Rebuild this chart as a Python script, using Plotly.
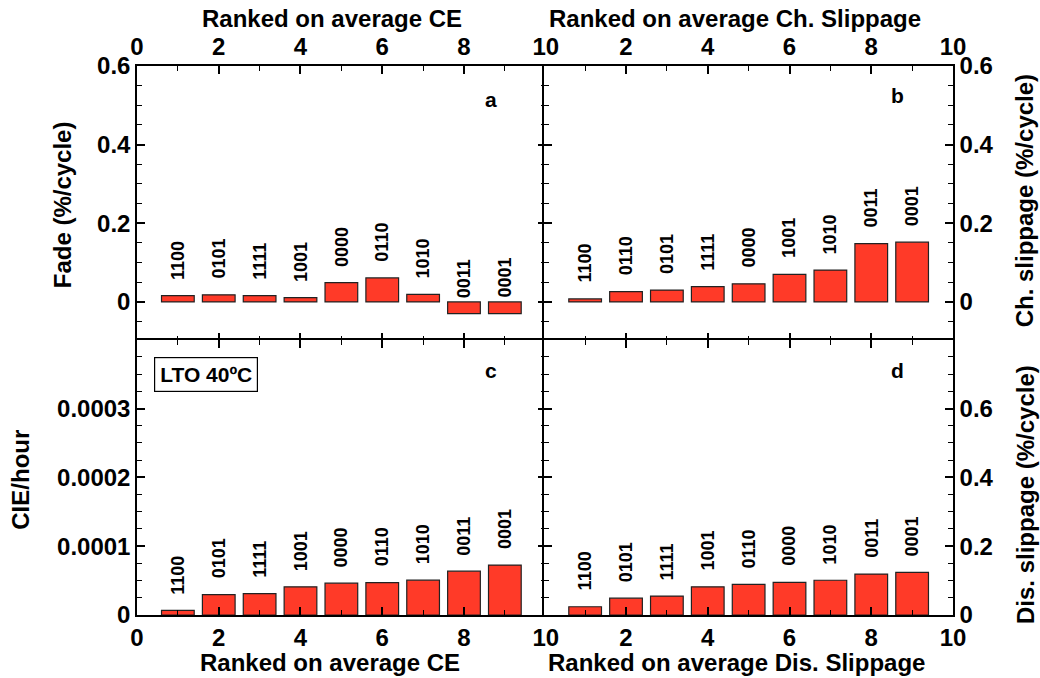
import plotly.graph_objects as go

# Rank positions shared by all four panels
rank = [1, 2, 3, 4, 5, 6, 7, 8, 9]

# (a) Fade, ranked on average CE
fade_codes = ["1100", "0101", "1111", "1001", "0000", "0110", "1010", "0011", "0001"]
fade_vals = [0.016, 0.018, 0.016, 0.011, 0.049, 0.061, 0.019, -0.030, -0.030]

# (b) Charge slippage, ranked on average Ch. slippage
ch_codes = ["1100", "0110", "0101", "1111", "0000", "1001", "1010", "0011", "0001"]
ch_vals = [0.0076, 0.026, 0.030, 0.039, 0.046, 0.070, 0.081, 0.148, 0.152]

# (c) CIE/hour, ranked on average CE
cie_codes = ["1100", "0101", "1111", "1001", "0000", "0110", "1010", "0011", "0001"]
cie_vals = [0.0000068, 0.0000297, 0.0000311, 0.0000409, 0.0000462,
            0.0000472, 0.0000506, 0.0000637, 0.0000725]

# (d) Discharge slippage, ranked on average Dis. slippage
dis_codes = ["1100", "0101", "1111", "1001", "0110", "0000", "1010", "0011", "0001"]
dis_vals = [0.024, 0.049, 0.055, 0.082, 0.089, 0.095, 0.101, 0.119, 0.124]

x_ticks_full = [0, 2, 4, 6, 8, 10]
x_ticks_right = [2, 4, 6, 8, 10]
slip_ticks = [0, 0.2, 0.4, 0.6]
slip_text = ["0", "0.2", "0.4", "0.6"]
cie_ticks = [0, 0.0001, 0.0002, 0.0003]
cie_text = ["0", "0.0001", "0.0002", "0.0003"]

FONT = "Liberation Sans"
BAR_COLOR = "#FF3A28"
TICKFONT = dict(family=FONT, size=24, color="black", weight="bold")

panels = [
    ("x", "y", fade_vals, fade_codes),
    ("x2", "y2", ch_vals, ch_codes),
    ("x3", "y3", cie_vals, cie_codes),
    ("x4", "y4", dis_vals, dis_codes),
]

fig = go.Figure()
annotations = []
for xa, ya, vals, codes in panels:
    fig.add_trace(go.Bar(
        x=rank, y=vals, width=0.8, xaxis=xa, yaxis=ya,
        marker=dict(color=BAR_COLOR, line=dict(color="#222222", width=1.2)),
        showlegend=False, hoverinfo="skip",
    ))
    for r, v, c in zip(rank, vals, codes):
        annotations.append(dict(
            x=r, y=v, xref=xa, yref=ya, text=c, showarrow=False,
            textangle=-90, yanchor="bottom", xanchor="center", yshift=14,
            font=dict(family=FONT, size=18, color="black", weight="bold"),
        ))


def xaxis(domain, anchor, side, tickvals):
    return dict(
        domain=domain, anchor=anchor, side=side, range=[0, 10],
        tickmode="array", tickvals=tickvals, ticktext=[str(t) for t in tickvals],
        ticks="inside", ticklen=8, tickwidth=1.5, tickcolor="black",
        minor=dict(tickmode="linear", tick0=0, dtick=1, ticks="inside",
                   ticklen=5, tickwidth=1.2, tickcolor="black"),
        showline=True, linecolor="black", linewidth=1.5, mirror="ticks",
        showgrid=False, zeroline=False, tickfont=TICKFONT, fixedrange=True,
    )


def yaxis(domain, anchor, side, rng, tickvals, ticktext, minor_dtick):
    return dict(
        domain=domain, anchor=anchor, side=side, range=rng,
        tickmode="array", tickvals=tickvals, ticktext=ticktext,
        ticks="inside", ticklen=8, tickwidth=1.5, tickcolor="black",
        minor=dict(tickmode="linear", tick0=0, dtick=minor_dtick, ticks="inside",
                   ticklen=5, tickwidth=1.2, tickcolor="black"),
        showline=True, linecolor="black", linewidth=1.5, mirror="ticks",
        showgrid=False, zeroline=False, tickfont=TICKFONT, fixedrange=True,
    )


title_font = dict(family=FONT, size=24, color="black")
letter_font = dict(family=FONT, size=21, color="black")


def paper_text(text, x, y, angle=0, font=title_font):
    return dict(text="<b>%s</b>" % text, x=x, y=y, xref="paper", yref="paper",
                showarrow=False, textangle=angle, xanchor="center",
                yanchor="middle", font=font)


annotations += [
    paper_text("Ranked on average CE", 0.239, 1.087),
    paper_text("Ranked on average Ch. Slippage", 0.733, 1.087),
    paper_text("Ranked on average CE", 0.237, -0.087),
    paper_text("Ranked on average Dis. Slippage", 0.735, -0.087),
    paper_text("Fade (%/cycle)", -0.092, 0.748, -90),
    paper_text("CIE/hour", -0.143, 0.247, -90),
    paper_text("Ch. slippage (%/cycle)", 1.088, 0.755, -90),
    paper_text("Dis. slippage (%/cycle)", 1.088, 0.22, -90),
    dict(text="<b>a</b>", x=8.65, y=0.515, xref="x", yref="y", showarrow=False,
         font=letter_font),
    dict(text="<b>b</b>", x=8.65, y=0.525, xref="x2", yref="y2", showarrow=False,
         font=letter_font),
    dict(text="<b>c</b>", x=8.65, y=0.000355, xref="x3", yref="y3", showarrow=False,
         font=letter_font),
    dict(text="<b>d</b>", x=8.65, y=0.71, xref="x4", yref="y4", showarrow=False,
         font=letter_font),
    dict(text="<b>LTO 40ºC</b>", x=1.68, y=0.000349, xref="x3", yref="y3",
         showarrow=False, bordercolor="black", borderwidth=1.2, borderpad=5,
         bgcolor="white", font=dict(family=FONT, size=21, color="black")),
]

# Neighbouring panels overlap by a line width so shared frame edges coincide
LEFT, RIGHT = [0, 0.5009], [0.4991, 1]
TOP, BOTTOM = [0.4987, 1], [0, 0.5013]

fig.update_layout(
    width=1040, height=678,
    margin=dict(l=137, r=87, t=66, b=63),
    paper_bgcolor="white", plot_bgcolor="white",
    xaxis=xaxis(LEFT, "y", "top", x_ticks_full),
    xaxis2=xaxis(RIGHT, "y2", "top", x_ticks_right),
    xaxis3=xaxis(LEFT, "y3", "bottom", x_ticks_full),
    xaxis4=xaxis(RIGHT, "y4", "bottom", x_ticks_right),
    yaxis=yaxis(TOP, "x", "left", [-0.1, 0.6], slip_ticks, slip_text, 0.05),
    yaxis2=yaxis(TOP, "x2", "right", [-0.1, 0.6], slip_ticks, slip_text, 0.05),
    yaxis3=yaxis(BOTTOM, "x3", "left", [0, 0.0004], cie_ticks, cie_text, 0.000025),
    yaxis4=yaxis(BOTTOM, "x4", "right", [0, 0.8], slip_ticks, slip_text, 0.05),
    annotations=annotations,
)

fig.write_html("out.html")
